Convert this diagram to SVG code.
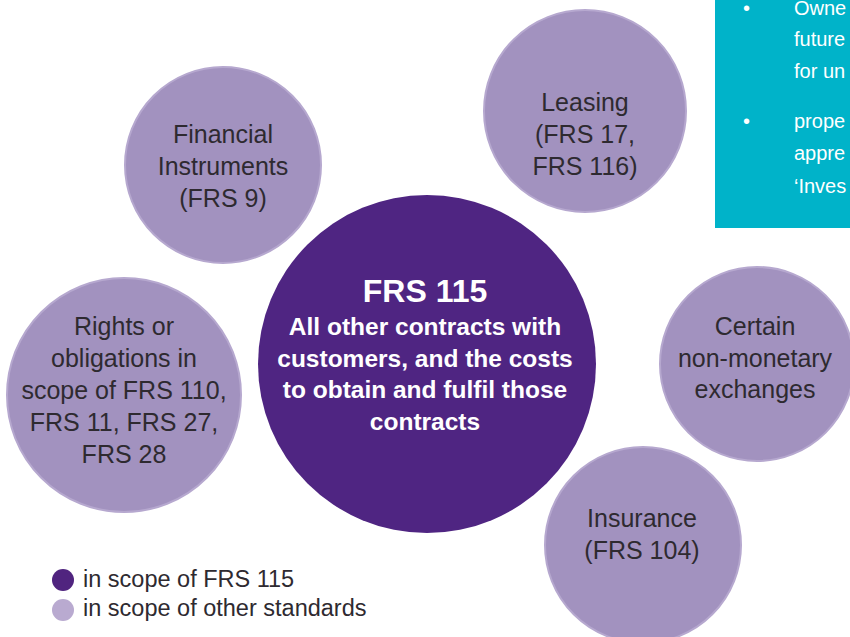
<svg xmlns="http://www.w3.org/2000/svg" width="850" height="637" viewBox="0 0 850 637">
<style>
.bg{fill:#ffffff}
.other{fill:#a292bf;stroke:#b6a8cf;stroke-width:2}
.main{fill:#4f2582}
.lbl{font-family:"Liberation Sans",Arial,sans-serif;font-size:25px;fill:#2e2a30;text-anchor:middle}
.mlbl{font-family:"Liberation Sans",Arial,sans-serif;font-weight:bold;font-size:24.5px;fill:#ffffff;text-anchor:middle}
.mtitle{font-size:32px}
.note{font-family:"Liberation Sans",Arial,sans-serif;font-size:20px;fill:#ffffff}
.leg{font-family:"Liberation Sans",Arial,sans-serif;font-size:23.5px;fill:#2e2a30}
</style>
<rect class="bg" x="0" y="0" width="850" height="637"/>
<g id="note-box">
<rect x="715" y="0" width="135" height="228" fill="#00b3c9"/>
<text class="note" x="743" y="15">•</text>
<text class="note" x="794" y="15">Owne</text>
<text class="note" x="794" y="46">future</text>
<text class="note" x="794" y="78">for un</text>
<text class="note" x="743" y="128">•</text>
<text class="note" x="794" y="128">prope</text>
<text class="note" x="794" y="160">appre</text>
<text class="note" x="794" y="193">‘Inves</text>
</g>
<g id="connectors"></g>
<g id="node-financial">
<circle class="other" cx="223" cy="165" r="98"/>
<text class="lbl" x="223" y="143">Financial</text>
<text class="lbl" x="223" y="175">Instruments</text>
<text class="lbl" x="223" y="207">(FRS 9)</text>
</g>
<g id="node-leasing">
<circle class="other" cx="585" cy="111" r="101"/>
<text class="lbl" x="585" y="111">Leasing</text>
<text class="lbl" x="585" y="143">(FRS 17,</text>
<text class="lbl" x="585" y="175">FRS 116)</text>
</g>
<g id="node-rights">
<circle class="other" cx="124" cy="395" r="117"/>
<text class="lbl" x="124" y="335">Rights or</text>
<text class="lbl" x="124" y="367">obligations in</text>
<text class="lbl" x="124" y="399">scope of FRS 110,</text>
<text class="lbl" x="124" y="431">FRS 11, FRS 27,</text>
<text class="lbl" x="124" y="463">FRS 28</text>
</g>
<g id="node-frs115">
<circle class="main" cx="427" cy="364" r="169"/>
<text class="mlbl mtitle" x="425" y="302">FRS 115</text>
<text class="mlbl" x="425" y="335">All other contracts with</text>
<text class="mlbl" x="425" y="367">customers, and the costs</text>
<text class="mlbl" x="425" y="398">to obtain and fulfil those</text>
<text class="mlbl" x="425" y="430">contracts</text>
</g>
<g id="node-nonmonetary">
<circle class="other" cx="757" cy="364" r="97"/>
<text class="lbl" x="755" y="335">Certain</text>
<text class="lbl" x="755" y="367">non-monetary</text>
<text class="lbl" x="755" y="398">exchanges</text>
</g>
<g id="node-insurance">
<circle class="other" cx="643" cy="545" r="98"/>
<text class="lbl" x="642" y="527">Insurance</text>
<text class="lbl" x="642" y="559">(FRS 104)</text>
</g>
<g id="legend">
<circle cx="63" cy="580" r="11" fill="#50247f"/>
<text class="leg" x="83" y="587">in scope of FRS 115</text>
<circle cx="63" cy="610" r="11" fill="#b9aad0"/>
<text class="leg" x="83" y="616">in scope of other standards</text>
</g>
</svg>
